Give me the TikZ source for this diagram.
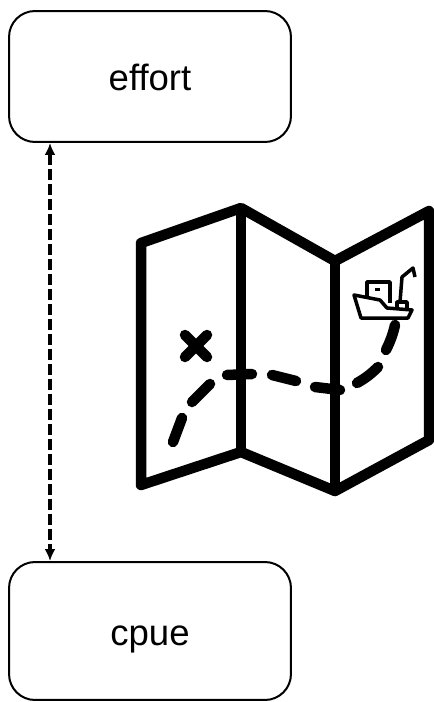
\documentclass[tikz,border=0pt]{standalone}
\usepackage{fontspec}
\setmainfont{Liberation Sans}
\usetikzlibrary{arrows.meta}

\tikzset{
  databox/.style={draw, line width=0.04cm, rounded corners=0.52cm, minimum width=5.64cm, text height=0.56cm, text depth=0cm, font=\fontsize{20.8}{24}\selectfont},
  linkline/.style={dash pattern=on 0.22cm off 0.08cm, line width=0.08cm, {Latex[length=0.24cm,width=0.22cm]}-{Latex[length=0.24cm,width=0.22cm]}},
  mapline/.style={line width=0.21cm, line join=round},
  routedash/.style={line width=0.21cm, line cap=round},
  boatline/.style={line width=0.07cm, line join=round}
}

\begin{document}
\begin{tikzpicture}[x=0.02cm, y=-0.02cm]

            \useasboundingbox (0,0) rectangle (433,702);

            % boxes
            \node[databox, minimum height=2.62cm] (effort) at (150,76.5) {effort};
            \node[databox, minimum height=2.76cm] (cpue) at (150,631) {cpue};

            % double arrow
            \coordinate (linkaxis) at (50,350);
            \draw[linkline] (effort.south -| linkaxis) -- (cpue.north -| linkaxis);

            % map outline
            \draw[mapline] (141,243) -- (241,208) -- (335,261) -- (429,211) -- (429,440)
                -- (335,491) -- (241,452) -- (141,485) -- cycle;

            % folds
            \draw[mapline] (241,208) -- (241,452);
            \draw[mapline] (335,261) -- (335,491);

            % cross
            \draw[routedash] (185,335) -- (207,357);
            \draw[routedash] (207,335) -- (185,357);

            % route
            \draw[routedash] (173,442) -- (182,418);
            \draw[routedash] (192,402) -- (210,384);
            \draw[routedash] (227,375) -- (252,374);
            \draw[routedash] (272,375) -- (296,381);
            \draw[routedash] (315,387) -- (340,390);
            \draw[routedash] (357,383) .. controls (366,378) and (372,373) .. (378,367);
            \draw[routedash] (386,350) .. controls (390,342) and (393,334) .. (395,325);

            % boat
            \draw[boatline] (354,295) -- (380,300) -- (387,308) -- (412,310) -- (408,318) -- (361,318) -- cycle;
            \draw[boatline] (367,296) -- (367,282) -- (390,282) -- (390,303);
            \draw[boatline] (397,307) -- (397,302) -- (407,302) -- (407,308);
            \draw[boatline] (400,302) -- (402,277) -- (413,268) -- (415,277);
            \draw[line width=0.06cm] (375,289.5) -- (380,289.5);

            \end{tikzpicture}
\end{document}
